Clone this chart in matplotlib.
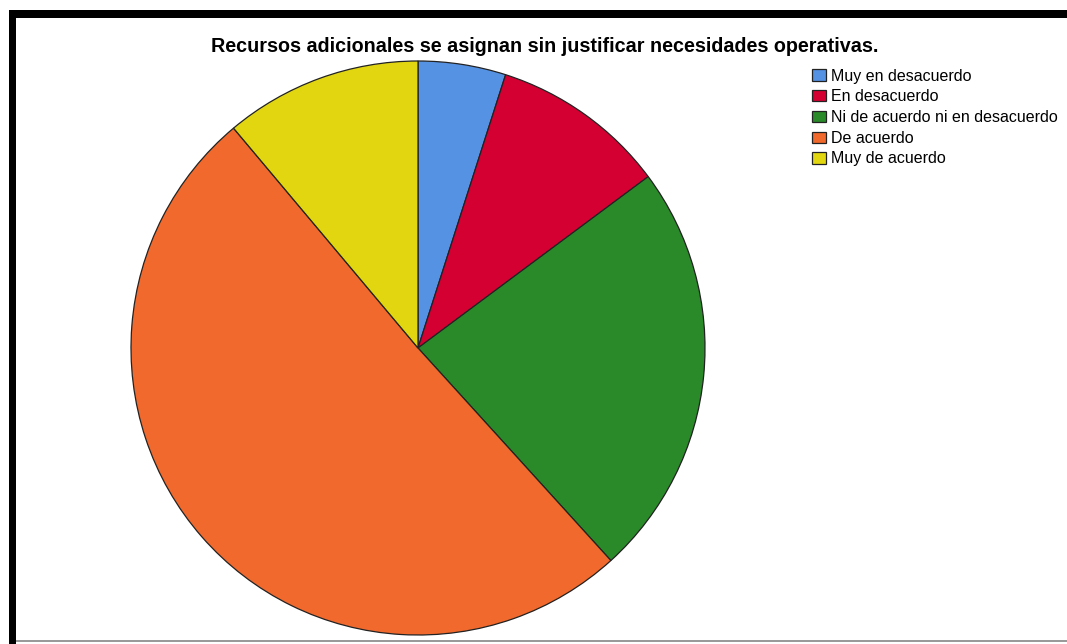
import matplotlib.pyplot as plt
from matplotlib.patches import Rectangle

categorias = ["Muy en desacuerdo", "En desacuerdo", "Ni de acuerdo ni en desacuerdo",
              "De acuerdo", "Muy de acuerdo"]
frecuencias = [4, 8, 19, 41, 9]
colores = ["#5592E4", "#D50032", "#2A8A2A", "#F1692C", "#E2D610"]
titulo = "Recursos adicionales se asignan sin justificar necesidades operativas."

W, H = 1067, 644
plt.rcParams['font.family'] = ['Liberation Sans', 'DejaVu Sans']

fig = plt.figure(figsize=(W / 100, H / 100), dpi=100)
fig.patch.set_facecolor("white")


def px_rect(x, y, w, h, color):
    # rectangle given in pixel coords measured from the top-left corner
    fig.patches.append(Rectangle((x / W, 1 - (y + h) / H), w / W, h / H,
                                 transform=fig.transFigure, facecolor=color,
                                 edgecolor="none", zorder=10))


# black frame (top and left) and thin grey bottom line
px_rect(9, 10, W - 9, 8, "black")
px_rect(9, 10, 7, H - 10, "black")
px_rect(16, 640, W - 16, 2, "#9a9a9a")

cx, cy, r = 418, 348, 287
ax = fig.add_axes([(cx - r) / W, 1 - (cy + r) / H, 2 * r / W, 2 * r / H])
wedges, _ = ax.pie(frecuencias, colors=colores, startangle=90, counterclock=False,
                   wedgeprops=dict(edgecolor="#222222", linewidth=0.9))
ax.set_xlim(-1, 1)
ax.set_ylim(-1, 1)
ax.set_aspect("equal")
ax.axis("off")

fig.text(545 / W, 1 - 47 / H, titulo, ha="center", va="center",
         fontsize=14.2, fontweight="bold")

fig.legend(wedges, categorias, loc="upper left",
           bbox_to_anchor=(812 / W, 1 - 68.5 / H), frameon=False,
           fontsize=11.5, handlelength=0.9, handleheight=0.7,
           handletextpad=0.3, labelspacing=0.36, borderpad=0,
           borderaxespad=0)

fig.savefig("out.png", dpi=100, facecolor="white")
